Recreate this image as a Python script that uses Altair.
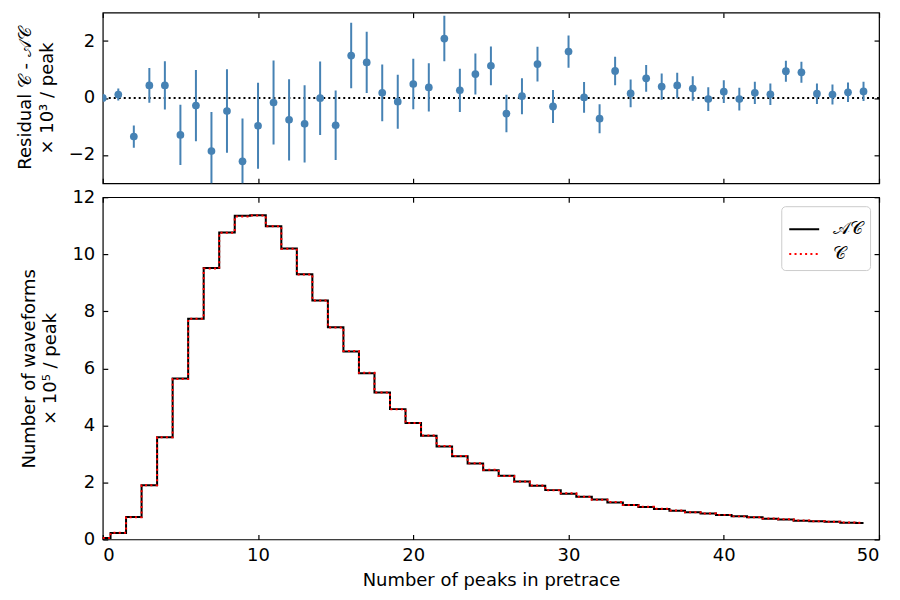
import altair as alt
import pandas as pd

# ---------------- data ----------------
peaks = list(range(50))

residual = [0.00, 0.12, -1.36, 0.44, 0.44, -1.30, -0.27, -1.87, -0.46, -2.23,
            -0.98, -0.16, -0.77, -0.91, -0.01, -0.96, 1.49, 1.25, 0.18, -0.13,
            0.49, 0.37, 2.09, 0.27, 0.84, 1.13, -0.55, 0.06, 1.19, -0.30,
            1.63, 0.02, -0.73, 0.95, 0.16, 0.69, 0.40, 0.44, 0.33, -0.04,
            0.22, -0.04, 0.18, 0.13, 0.94, 0.90, 0.15, 0.12, 0.20, 0.23]

residual_err = [0.05, 0.21, 0.39, 0.61, 0.85, 1.06, 1.25, 1.38, 1.47, 1.51,
                1.51, 1.48, 1.43, 1.36, 1.29, 1.22, 1.15, 1.08, 1.00, 0.95,
                0.89, 0.85, 0.80, 0.76, 0.72, 0.68, 0.66, 0.63, 0.61, 0.58,
                0.57, 0.54, 0.51, 0.50, 0.49, 0.47, 0.46, 0.45, 0.43, 0.42,
                0.40, 0.40, 0.39, 0.38, 0.37, 0.37, 0.36, 0.35, 0.34, 0.34]

ac_counts = [0.05, 0.23, 0.79, 1.90, 3.58, 5.64, 7.74, 9.52, 10.76, 11.35,
             11.37, 10.98, 10.20, 9.30, 8.38, 7.44, 6.59, 5.83, 5.15, 4.57,
             4.08, 3.64, 3.26, 2.92, 2.66, 2.43, 2.23, 2.03, 1.88, 1.73,
             1.60, 1.50, 1.40, 1.30, 1.21, 1.14, 1.07, 1.01, 0.95, 0.91,
             0.86, 0.81, 0.78, 0.73, 0.70, 0.66, 0.64, 0.62, 0.59, 0.58]

series_names = ["𝒜𝒞", "𝒞"]
series_colors = ["black", "red"]

x_ticks = [0, 10, 20, 30, 40, 50]
res_ticks = [-2, 0, 2]
count_ticks = [0, 2, 4, 6, 8, 10, 12]

# C = AC + residual (residual in 1e3, counts in 1e5)
c_counts = [a + r / 100.0 for a, r in zip(ac_counts, residual)]

res_df = pd.DataFrame({"peaks": peaks, "residual": residual, "err": residual_err})
res_df["lo"] = res_df["residual"] - res_df["err"]
res_df["hi"] = res_df["residual"] + res_df["err"]

hist_df = pd.concat([
    pd.DataFrame({"peaks": peaks, "count": ac_counts, "series": series_names[0]}),
    pd.DataFrame({"peaks": peaks, "count": c_counts, "series": series_names[1]}),
], ignore_index=True)

FONT = "DejaVu Sans"
W = 778
TICK = 5
BLUE = "#4682b4"

xscale = alt.Scale(domain=[0, 50], nice=False, zero=False)
res_scale = alt.Scale(domain=[-3, 3], nice=False, zero=False)
cnt_scale = alt.Scale(domain=[0, 12], nice=False, zero=False)


def ax(orient, values, labels=False, title=None, **kw):
    args = dict(orient=orient, values=values, labels=labels, tickSize=TICK,
                offset=-TICK, domain=False, grid=False, tickColor="black",
                tickWidth=1.2)
    args["title"] = title
    args.update(kw)
    return alt.Axis(**args)


# ---------------- top panel: residuals ----------------
zero_line = alt.Chart(pd.DataFrame({"z": [0]})).mark_rule(
    color="black", strokeDash=[2, 3], strokeWidth=2
).encode(y=alt.Y("z:Q", scale=res_scale, axis=None))

err_bars = alt.Chart(res_df).mark_rule(color=BLUE, strokeWidth=2, clip=True).encode(
    x=alt.X("peaks:Q", scale=xscale, axis=ax("bottom", x_ticks)),
    y=alt.Y("lo:Q", scale=res_scale,
            axis=ax("left", res_ticks, labels=True,
                    title=["Residual 𝒞 - 𝒜𝒞", "× 10³ / peak"],
                    labelPadding=8, titlePadding=12)),
    y2="hi:Q",
)

points = alt.Chart(res_df).mark_circle(color=BLUE, size=60, opacity=1, clip=True).encode(
    x=alt.X("peaks:Q", scale=xscale, axis=ax("top", x_ticks)),
    y=alt.Y("residual:Q", scale=res_scale, axis=ax("right", res_ticks)),
)

top = alt.layer(zero_line, err_bars, points).resolve_axis(
    x="independent", y="independent"
).properties(width=W, height=171)

# ---------------- bottom panel: histogram ----------------
color_enc = alt.Color("series:N", scale=alt.Scale(domain=series_names, range=series_colors),
                      legend=alt.Legend(title=None))
dash_enc = alt.StrokeDash("series:N",
                          scale=alt.Scale(domain=series_names, range=[[1, 0], [2, 3.3]]),
                          legend=alt.Legend(title=None))

ac_line = alt.Chart(hist_df).transform_filter(
    alt.datum.series == series_names[0]
).mark_line(interpolate="step", strokeWidth=2).encode(
    x=alt.X("peaks:Q", scale=xscale,
            axis=ax("bottom", x_ticks, labels=True, title="Number of peaks in pretrace",
                    labelPadding=7, titlePadding=7)),
    y=alt.Y("count:Q", scale=cnt_scale,
            axis=ax("left", count_ticks, labels=True,
                    title=["Number of waveforms", "× 10⁵ / peak"],
                    labelPadding=8, titlePadding=12)),
    color=color_enc,
    strokeDash=dash_enc,
)

c_line = alt.Chart(hist_df).transform_filter(
    alt.datum.series == series_names[1]
).mark_line(interpolate="step", strokeWidth=2).encode(
    x=alt.X("peaks:Q", scale=xscale, axis=ax("top", x_ticks)),
    y=alt.Y("count:Q", scale=cnt_scale, axis=ax("right", count_ticks)),
    color=color_enc,
    strokeDash=dash_enc,
)

bottom = alt.layer(ac_line, c_line).resolve_axis(
    x="independent", y="independent"
).properties(width=W, height=343)

chart = alt.vconcat(top, bottom, spacing=2).resolve_scale(
    color="independent", strokeDash="independent"
).resolve_legend(
    color="independent", strokeDash="independent"
).properties(
    padding={"left": 15, "top": 10, "right": 19, "bottom": 5}
).configure(
    font=FONT
).configure_view(
    stroke="black", strokeWidth=1.2
).configure_axis(
    labelFont=FONT, titleFont=FONT, labelFontSize=18, titleFontSize=18,
    labelColor="black", titleColor="black", titleFontWeight="normal",
    titleLineHeight=22
).configure_legend(
    orient="top-right", offset=9, padding=7, fillColor="rgba(255,255,255,0.8)",
    strokeColor="#cccccc", cornerRadius=4, symbolType="stroke", symbolSize=900,
    symbolStrokeWidth=2, labelFont=FONT, labelFontSize=18, labelColor="black",
    labelOffset=13, rowPadding=0
)

chart.save("out.html", embed_options={"renderer": "svg", "actions": False})
